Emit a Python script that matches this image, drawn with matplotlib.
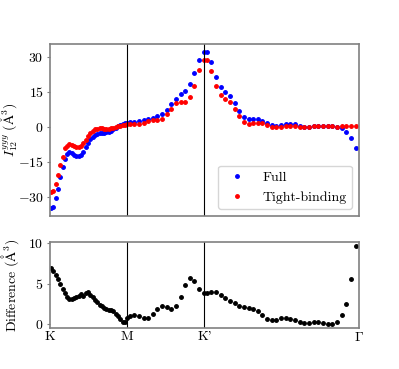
import numpy as np
import matplotlib
matplotlib.use('Agg')
import matplotlib.pyplot as plt

plt.rcParams['font.family'] = 'serif'
plt.rcParams['font.serif'] = ['cmr10']
plt.rcParams['mathtext.fontset'] = 'cm'
plt.rcParams['axes.formatter.use_mathtext'] = True
plt.rcParams['font.size'] = 10

# k-path positions (K=0, M=1, K'=2, Gamma=4)
x_km = np.linspace(0.013, 1.0, 34)
x_mk = np.linspace(1.032, 1.99, 17)
x_kg = np.linspace(2.028, 3.955, 33)
x = np.concatenate([x_km, x_mk, x_kg])

# Full calculation
full_km = [-35.0, -34.3, -30.7, -26.7, -21.5, -17.5, -13.9, -11.6, -10.8, -11.5,
           -12.2, -12.7, -12.8, -12.4, -10.9, -8.8, -7.0, -5.4, -4.4, -3.5,
           -3.0, -2.7, -2.6, -2.6, -2.5, -2.3, -1.8, -1.2, -0.5, 0.1,
           0.6, 1.0, 1.4, 1.7]
full_mk = [2.0, 2.0, 2.3, 2.9, 3.2, 3.6, 4.3, 5.4, 7.2, 9.7,
           12.0, 13.9, 15.4, 18.2, 22.9, 28.6, 32.0]
full_kg = [32.0, 27.6, 21.3, 17.0, 15.0, 13.2, 10.1, 6.7, 4.1, 3.2,
           3.3, 3.3, 2.5, 1.4, 0.7, 0.3, 0.6, 1.1, 1.1, 0.9,
           0.4, 0.0, 0.0, 0.3, 0.4, 0.3, 0.3, 0.1, 0.0, -0.7,
           -2.3, -5.1, -9.0]

# Tight-binding model
tb_km = [-28.0, -27.8, -24.5, -20.8, -16.6, -13.0, -9.4, -8.2, -7.6, -7.9,
         -8.5, -8.9, -8.8, -8.4, -7.2, -5.8, -4.2, -2.9, -1.8, -1.2,
         -0.9, -0.8, -0.8, -0.9, -1.0, -0.9, -0.8, -0.5, -0.2, 0.1,
         0.4, 0.6, 0.8, 0.9]
tb_mk = [0.9, 0.9, 1.1, 1.7, 2.3, 2.6, 2.9, 3.3, 5.4, 7.7,
         10.0, 10.6, 10.7, 12.6, 17.4, 24.3, 28.3]
tb_kg = [28.3, 23.7, 17.4, 13.4, 11.7, 10.3, 7.4, 4.3, 2.0, 1.1,
         1.4, 1.6, 1.3, 0.6, -0.1, -0.3, 0.0, 0.3, 0.3, 0.3,
         0.0, 0.0, 0.0, 0.1, 0.3, 0.3, 0.3, 0.2, 0.0, 0.1,
         0.1, 0.3, 0.3]

# Difference
diff_km = [7.0, 6.6, 6.1, 5.6, 5.0, 4.4, 3.8, 3.4, 3.1, 3.1,
           3.2, 3.3, 3.5, 3.7, 3.5, 3.8, 4.0, 3.6, 3.4, 3.0,
           2.7, 2.4, 2.2, 2.0, 1.9, 1.8, 1.7, 1.6, 1.3, 1.0,
           0.6, 0.2, 0.3, 0.7]
diff_mk = [1.0, 1.15, 1.0, 0.8, 0.8, 1.2, 1.9, 2.2, 2.1, 1.9,
           2.2, 3.3, 4.8, 5.7, 5.35, 4.35, 3.8]
diff_kg = [3.8, 4.0, 3.95, 3.6, 3.2, 2.9, 2.6, 2.3, 2.1, 2.05,
           1.9, 1.6, 1.15, 0.65, 0.45, 0.5, 0.7, 0.8, 0.65, 0.45,
           0.25, 0.15, 0.15, 0.25, 0.25, 0.15, 0.05, 0.0, 0.3, 1.1,
           2.5, 5.6, 9.7]

full = full_km + full_mk + full_kg
tb = tb_km + tb_mk + tb_kg
diff = diff_km + diff_mk + diff_kg

sym_pos = [0, 1, 2, 4]
sym_labels = ['K', 'M', "K'", r'$\Gamma$']

fig = plt.figure(figsize=(3.99, 3.69), dpi=100)
ax1 = fig.add_axes([0.1253, 0.4146, 0.7744, 0.4661])
ax2 = fig.add_axes([0.1253, 0.1111, 0.7744, 0.2331])

ax1.plot(x, full, 'o', color='b', markersize=2.5, label='Full')
ax1.plot(x, tb, 'o', color='r', markersize=2.5, label='Tight-binding')
ax2.plot(x, diff, 'o', color='k', markersize=2.5)

for ax in (ax1, ax2):
    ax.set_xlim(0, 4)
    for p in sym_pos[1:3]:
        ax.axvline(p, color='k', lw=0.8)
    for s in ax.spines.values():
        s.set_color('#808080')
        s.set_linewidth(1.2)
    ax.tick_params(axis='y', length=2.5, width=0.8, color='#808080', pad=2)
    ax.tick_params(axis='x', length=0, pad=2)

ax1.set_yticks([-30, -15, 0, 15, 30])
ax1.set_xticks([])
ax1.set_ylabel(r'$I^{yyy}_{12}\ (\mathrm{\AA}^3)$')
ax1.yaxis.set_label_coords(-0.097, 0.5)
ax1.legend(loc='lower right', fontsize=10)

ax2.set_yticks([0, 5, 10])
ax2.set_xticks(sym_pos)
ax2.set_xticklabels(sym_labels)
ax2.set_ylabel(r'Difference $(\mathrm{\AA}^3)$')
ax2.yaxis.set_label_coords(-0.095, 0.5)

fig.savefig('out.png', dpi=100)
